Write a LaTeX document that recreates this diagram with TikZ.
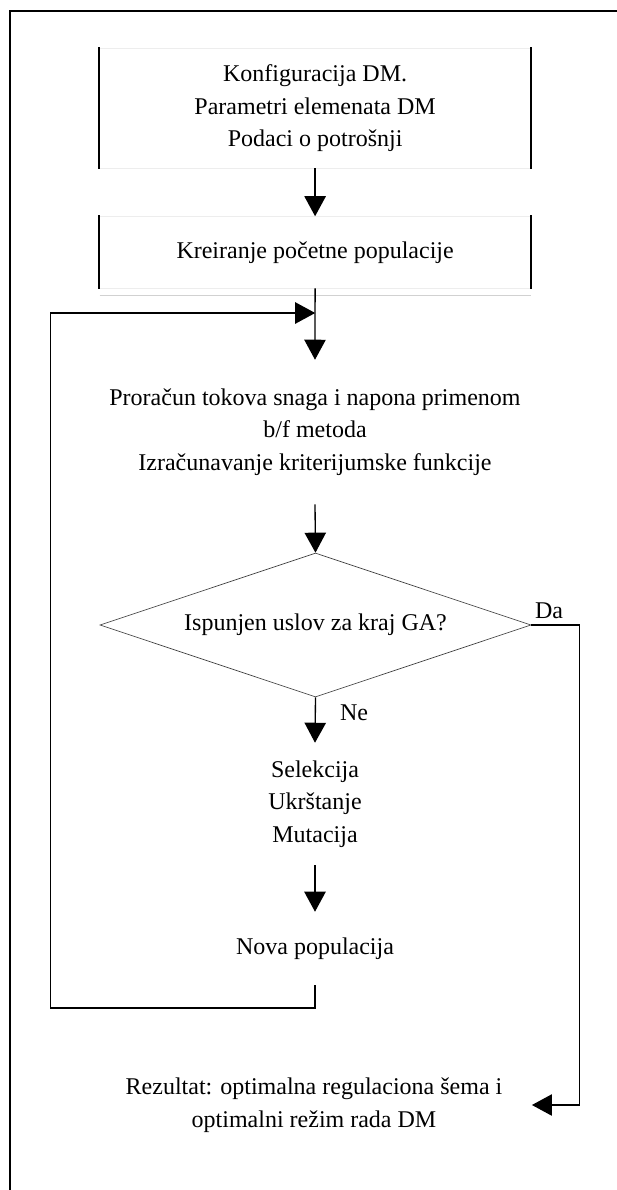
\documentclass[tikz,border=0pt]{standalone}
\usepackage{fontspec}
\setmainfont{Liberation Serif}
\usetikzlibrary{arrows.meta,shapes.geometric}
\begin{document}
\begin{tikzpicture}[x=0.75pt,y=-0.75pt,
  every node/.style={font=\fontsize{18pt}{24.4pt}\selectfont, align=center, inner sep=0pt},
  boxnode/.style={draw=black!7, line width=0.6pt, minimum width=323.25pt},
  side/.style={line width=1.5pt, line cap=rect},
  conn/.style={line width=1pt},
  arr/.style={conn, -{Triangle[length=15pt,width=16pt]}},
  frame/.style={line width=1.5pt},
  txt/.style={minimum width=323.25pt}
]
\useasboundingbox (0,0) rectangle (617,1190);
\fill[white] (0,0) rectangle (617,1190);
% outer frame (only top and left visible)
\draw[frame] (10.3,1190) -- (10.3,10.5) -- (617,10.5);

% box 1
\node[boxnode, minimum height=89.5pt] (b1) at (315.1,108.3)
  {Konfiguracija DM.\\Parametri elemenata DM\\Podaci o potrošnji};
\draw[side] (b1.north west) -- (b1.south west);
\draw[side] (b1.north east) -- (b1.south east);

% box 2
\node[boxnode, minimum height=53.5pt] (b2) at (315.1,252.3)
  {Kreiranje početne populacije};
\draw[side] (b2.north west) -- (b2.south west);
\draw[side] (b2.north east) -- (b2.south east);
\draw[black!18, line width=0.7pt] (99.5,295.7) -- (530.7,295.7);

% computation
\node[txt, minimum height=108pt] (pr) at (315,432)
  {Proračun tokova snaga i napona primenom\\b/f metoda\\Izračunavanje kriterijumske funkcije};

% decision
\node[draw=black!75, line width=0.5pt, shape=diamond, aspect=2.993,
  minimum width=323.25pt, minimum height=108pt] (dia) at (315.5,625)
  {Ispunjen uslov za kraj GA?};

% genetic operators
\node[txt, minimum height=91.5pt] (sel) at (315,804)
  {Selekcija\\Ukrštanje\\Mutacija};
\node[txt, minimum height=54.75pt] (nova) at (315,948.5) {Nova populacija};

% result
\node[minimum width=326.5pt] (rez) at (314,1105)
  {Rezultat: optimalna regulaciona šema i\\optimalni režim rada DM};

% labels
\node (da) at (549,611) {Da};
\node (ne) at (354,713) {Ne};

% coordinates
\coordinate (join) at (315.2,313);
\coordinate (lb) at (50.5,1008);
\coordinate (dr) at (579.5,1105);

% connectors
\draw[arr] (b1.south) -- (b2.north);
\draw[arr] (b2.south) -- (pr.north);
\draw[arr] (nova.south) |- (lb) |- (join);
\draw[arr] (pr.south) -- (dia.north);
\draw[arr] (dia.south) -- (sel.north);
\draw[arr] (sel.south) -- (nova.north);
\draw[arr] (dia.east) -| (dr) -- (rez.east);
\end{tikzpicture}
\end{document}
